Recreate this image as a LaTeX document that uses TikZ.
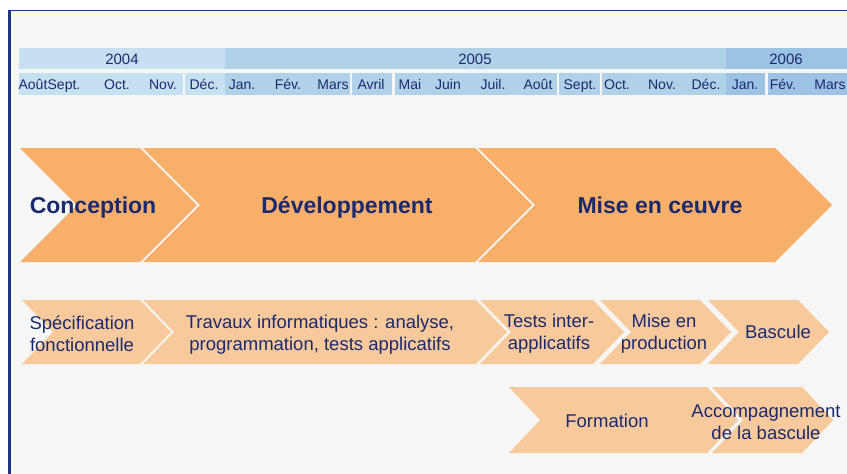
\documentclass[tikz,border=0pt]{standalone}
\usepackage{fontspec}
\setmainfont{Liberation Sans}
\definecolor{navy}{HTML}{1B2A6E}
\definecolor{framecol}{HTML}{1E3585}
\definecolor{bggray}{HTML}{F6F6F6}
\definecolor{yearA}{HTML}{C7E0F1}
\definecolor{yearB}{HTML}{B1D1E9}
\definecolor{yearC}{HTML}{9CC3E3}
\definecolor{phase}{HTML}{F7AF69}
\definecolor{task}{HTML}{F8C99B}
% fill, x0, x1, ymid, half height, depth
\newcommand{\chevshape}[6]{%
  \fill[#1] (#2,{#4-#5}) -- (#3,{#4-#5}) -- ({#3+#6},#4) -- (#3,{#4+#5})
    -- (#2,{#4+#5}) -- ({#2+#6},#4) -- cycle;}
\tikzset{
  yeartxt/.style={text=navy, anchor=base, inner sep=0pt, font=\fontsize{15}{18}\selectfont},
  monthtxt/.style={text=navy, anchor=base, inner sep=0pt, font=\fontsize{14}{16}\selectfont},
  phasetxt/.style={text=navy, anchor=base, inner sep=0pt, font=\fontsize{23}{26}\selectfont\bfseries},
  tasktxt/.style={text=navy, align=center, font=\fontsize{18.5}{22}\selectfont, inner sep=0pt},
  taskline/.style={text=navy, anchor=base, inner sep=0pt, font=\fontsize{18.5}{22}\selectfont}
}
\begin{document}
\begin{tikzpicture}[x=1pt, y=-1pt]
  \useasboundingbox (0,0) rectangle (847,474);
  \fill[white] (0,0) rectangle (847,474);
  \fill[bggray] (10,11) rectangle (847,474);
  \draw[framecol, line width=1.5pt] (8,10.5) -- (847,10.5);
  \draw[framecol, line width=2.5pt] (9.5,10) -- (9.5,474);

  % years
  \fill[yearA] (19,48) rectangle (225,69);
  \fill[yearB] (225,48) rectangle (726,69);
  \fill[yearC] (726,48) rectangle (847,69);
  \node[yeartxt] (y2004) at (122,64) {2004};
  \node[yeartxt] (y2005) at (475,64) {2005};
  \node[yeartxt] (y2006) at (786,64) {2006};

  % months
  \fill[yearA] (19,73) rectangle (183,95);
  \fill[yearA] (185,73) rectangle (225,95);
  \fill[yearB] (225,73) rectangle (350,95);
  \fill[yearB] (352,73) rectangle (392,95);
  \fill[yearB] (395,73) rectangle (557,95);
  \fill[yearB] (559,73) rectangle (600,95);
  \fill[yearB] (602,73) rectangle (726,95);
  \fill[yearC] (726,73) rectangle (765,95);
  \fill[yearC] (768,73) rectangle (847,95);
  \foreach \mx/\mt [count=\i] in {33/Août, 64/Sept., 117/Oct., 163/Nov., 204/Déc.,
      242/Jan., 288/Fév., 333/Mars, 371/Avril, 410/Mai, 448/Juin, 493/Juil.,
      538/Août, 580/Sept., 617/Oct., 662/Nov., 706/Déc., 745/Jan., 783/Fév., 830/Mars}
    \node[monthtxt] (m\i) at (\mx,89) {\mt};

  % phases
  \chevshape{phase}{20}{140}{205}{57}{57}
  \chevshape{phase}{143}{475}{205}{57}{57}
  \chevshape{phase}{478}{775}{205}{57}{57}
  \node[phasetxt] (conception) at (93,213) {Conception};
  \node[phasetxt] (developpement) at (347,213) {Développement};
  \node[phasetxt] (miseoeuvre) at (660,213) {Mise en ceuvre};

  % tasks
  \chevshape{task}{22}{140}{332}{32}{31}
  \chevshape{task}{143}{476}{332}{32}{31}
  \chevshape{task}{480}{593}{332}{32}{31}
  \chevshape{task}{600}{700}{332}{32}{31}
  \chevshape{task}{708}{798}{332}{32}{31}
  \node[tasktxt] (specif) at (82,334) {Spécification\\fonctionnelle};
  \node[tasktxt] (travaux) at (320,335) {Travaux informatiques : analyse,\\programmation, tests applicatifs};
  \node[tasktxt] (tests) at (549,334) {Tests inter-\\applicatifs};
  \node[tasktxt] (miseprod) at (664,334) {Mise en\\production};
  \node[taskline] (bascule) at (778,338) {Bascule};

  \chevshape{task}{509}{707}{420}{33}{31}
  \chevshape{task}{712}{802}{420}{33}{31}
  \node[taskline] (formation) at (607,427) {Formation};
  \node[tasktxt] (accomp) at (766,422) {Accompagnement\\de la bascule};
\end{tikzpicture}
\end{document}
